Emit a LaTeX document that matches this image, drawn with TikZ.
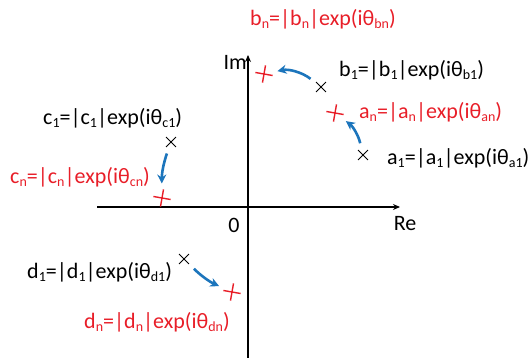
\documentclass[tikz,border=0pt]{standalone}
\usepackage{fontspec}
\setmainfont{Carlito}
\usetikzlibrary{arrows.meta,shapes.misc}
\definecolor{lblred}{RGB}{232,30,40}
\definecolor{arrblue}{RGB}{28,117,188}
\newcommand{\sbs}[1]{\raisebox{-0.35ex}{\fontsize{14}{14}\selectfont #1}}
\tikzset{
  axis/.style={line width=1.8pt,-{Stealth[length=7pt,width=6pt]}},
  lbl/.style={anchor=west,inner sep=0pt,font=\fontsize{22}{22}\selectfont},
  redlbl/.style={lbl,text=lblred},
  xmark/.style={cross out,draw=black,line width=0.9pt,minimum size=9pt,inner sep=0pt},
  pmark/.style={cross out,draw=lblred,line width=1.4pt,minimum size=11pt,inner sep=0pt,rotate=35},
  barrow/.style={draw=arrblue,line width=2.6pt,-{Stealth[length=9pt,width=9pt]},shorten <=7pt,shorten >=7pt}
}
\begin{document}
\begin{tikzpicture}[x=1pt,y=1pt]
\useasboundingbox (0,0) rectangle (530,-358);
% axes
\coordinate (xl) at (97,-207);
\coordinate (xr) at (400,-207);
\coordinate (yb) at (248,-358);
\coordinate (yt) at (248,-55);
\draw[axis] (xl) -- (xr);
\draw[axis] (yb) -- (yt);
\node[lbl,anchor=east] (im) at (247,-62) {Im};
\node[lbl,anchor=center] (re) at (405,-224) {Re};
\node[lbl,anchor=center] (zero) at (234,-225) {0};
% marks
\node[xmark] (a1) at (363,-155) {};
\node[xmark] (b1) at (321,-87) {};
\node[xmark] (c1) at (171,-142) {};
\node[xmark] (d1) at (184,-259) {};
\node[pmark] (an) at (335,-113) {};
\node[pmark] (bn) at (264,-74) {};
\node[pmark] (cn) at (162,-198) {};
\node[pmark] (dn) at (232,-292) {};
% arrows
\draw[barrow] (a1) to[bend right=20] (an);
\draw[barrow] (b1) to[bend right=25] (bn);
\draw[barrow] (c1) to[bend right=10] (cn);
\draw[barrow] (d1) to[bend right=10] (dn);
% labels
\node[redlbl] (lbn) at (250,-19) {b\sbs{n}=|b\sbs{n}|exp(iθ\sbs{bn})};
\node[lbl] (lb1) at (339,-70) {b\sbs{1}=|b\sbs{1}|exp(iθ\sbs{b1})};
\node[redlbl] (lan) at (359,-112) {a\sbs{n}=|a\sbs{n}|exp(iθ\sbs{an})};
\node[lbl] (la1) at (387,-158) {a\sbs{1}=|a\sbs{1}|exp(iθ\sbs{a1})};
\node[lbl] (lc1) at (43,-118) {c\sbs{1}=|c\sbs{1}|exp(iθ\sbs{c1})};
\node[redlbl] (lcn) at (10,-177) {c\sbs{n}=|c\sbs{n}|exp(iθ\sbs{cn})};
\node[lbl] (ld1) at (27,-272) {d\sbs{1}=|d\sbs{1}|exp(iθ\sbs{d1})};
\node[redlbl] (ldn) at (84,-322) {d\sbs{n}=|d\sbs{n}|exp(iθ\sbs{dn})};
\end{tikzpicture}
\end{document}
